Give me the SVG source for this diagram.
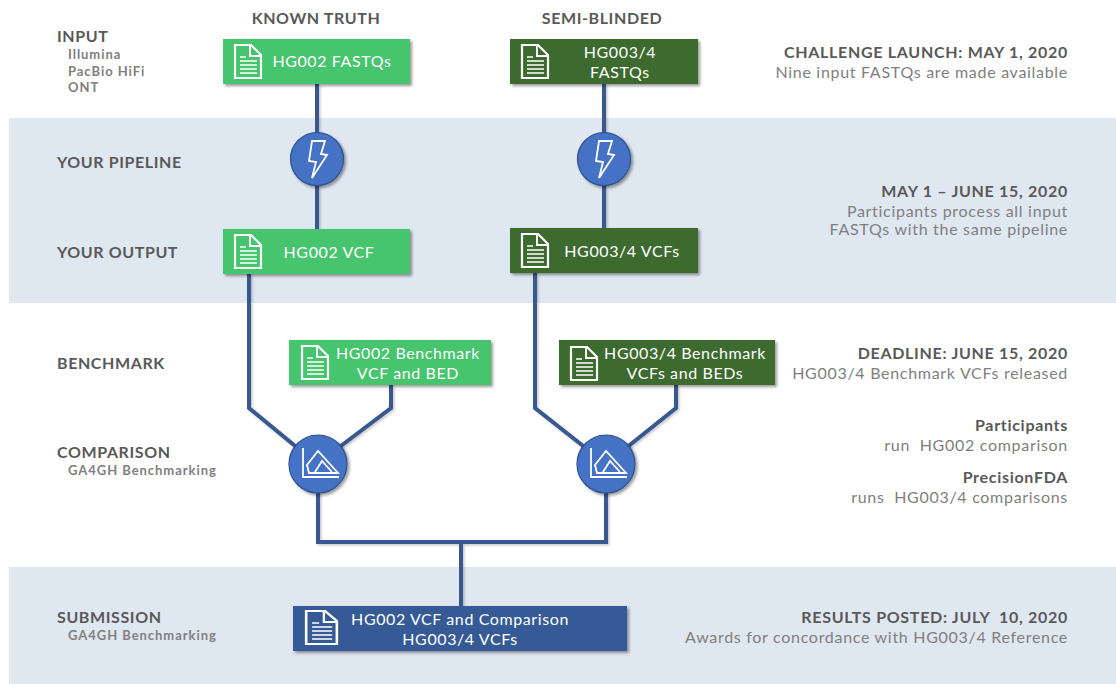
<svg xmlns="http://www.w3.org/2000/svg" width="1116" height="684" viewBox="0 0 1116 684">
<style>
text{font-family:Lato,"Open Sans","Liberation Sans",sans-serif}
.h{font-size:16px;font-weight:700;fill:#595959;letter-spacing:.6px}
.s{font-size:13px;font-weight:700;fill:#808080;letter-spacing:.95px}
.rh{font-size:16px;font-weight:700;fill:#595959;text-anchor:end;letter-spacing:.7px}
.rs{font-size:16px;fill:#808080;text-anchor:end;letter-spacing:.7px}
.n{font-size:16px;fill:#fff;text-anchor:middle;letter-spacing:.6px}
.line{fill:none;stroke:#38598f;stroke-width:4;stroke-linejoin:miter}
.g{fill:#46c46e}.d{fill:#3e6b2f}.b{fill:#365a96}
.c{fill:#4472c4;stroke:#2f528f;stroke-width:1.2}
.ico{fill:none;stroke:#fff;stroke-width:1.8}
</style>
<defs>
<filter id="sh" x="-10%" y="-20%" width="120%" height="140%"><feDropShadow dx="2" dy="2" stdDeviation="1.5" flood-color="#000" flood-opacity=".4"/></filter>
<filter id="lsh" x="-5%" y="-5%" width="110%" height="110%"><feDropShadow dx="1.5" dy="1.5" stdDeviation="1" flood-color="#000" flood-opacity=".22"/></filter>
<g id="doc"><path d="M1 1H17L27 11V34H1Z" fill="none" stroke="#fff" stroke-width="2.2"/><path d="M16 1V12H27" fill="none" stroke="#fff" stroke-width="2"/><path d="M6 13H12M6 17H23M6 21H23M6 25H23M6 29H23" stroke="#fff" stroke-width="1.5" fill="none"/></g>
<g id="bolt"><path d="M-5 -18H8L4 -5L10 -4L-5 19L-1 3L-8 2Z" class="ico"/></g>
<g id="chart"><path d="M-15 -16V13H21" class="ico"/><path d="M0 -13L-11 1L-9 9H20Z" class="ico"/><path d="M-3 8L4 -3L14 8" class="ico"/></g>
</defs>
<rect x="9" y="118" width="1107" height="185" fill="#dfe7f1"/>
<rect x="9" y="567" width="1107" height="117" fill="#dfe7f1"/>
<g id="connectors" filter="url(#lsh)">
<path class="line" d="M317 84V229"/>
<path class="line" d="M604 84V228"/>
<path class="line" d="M249 274V408L317 464"/>
<path class="line" d="M391 385V408L317 464"/>
<path class="line" d="M535 273V408L606 464"/>
<path class="line" d="M676 385V408L606 464"/>
<path class="line" d="M318 464V542H606V464"/>
<path class="line" d="M461 542V606"/>
</g>
<g id="labels-left">
<text class="h" x="57" y="42">INPUT</text>
<text class="s" x="68" y="59">Illumina</text>
<text class="s" x="68" y="76">PacBio HiFi</text>
<text class="s" x="68" y="92">ONT</text>
<text class="h" x="57" y="168">YOUR PIPELINE</text>
<text class="h" x="57" y="258">YOUR OUTPUT</text>
<text class="h" x="57" y="369">BENCHMARK</text>
<text class="h" x="57" y="458">COMPARISON</text>
<text class="s" x="68" y="475">GA4GH Benchmarking</text>
<text class="h" x="57" y="623">SUBMISSION</text>
<text class="s" x="68" y="640">GA4GH Benchmarking</text>
<text class="h" x="316" y="24" text-anchor="middle">KNOWN TRUTH</text>
<text class="h" x="602" y="24" text-anchor="middle">SEMI-BLINDED</text>
</g>
<g id="n-hg002-fastq"><rect class="g" x="223" y="39" width="187" height="45" filter="url(#sh)"/><use href="#doc" x="234" y="44"/><text class="n" x="332" y="67">HG002 FASTQs</text></g>
<g id="n-hg003-fastq"><rect class="d" x="510" y="39" width="188" height="45" filter="url(#sh)"/><use href="#doc" x="521" y="44"/><text class="n" x="620" y="58">HG003/4</text><text class="n" x="620" y="78">FASTQs</text></g>
<g id="n-pipe1"><circle class="c" cx="317" cy="159" r="26.5" filter="url(#sh)"/><use href="#bolt" x="317" y="159"/></g>
<g id="n-pipe2"><circle class="c" cx="604" cy="159" r="26.5" filter="url(#sh)"/><use href="#bolt" x="604" y="159"/></g>
<g id="n-hg002-vcf"><rect class="g" x="223" y="229" width="187" height="45" filter="url(#sh)"/><use href="#doc" x="234" y="234"/><text class="n" x="329" y="258">HG002 VCF</text></g>
<g id="n-hg003-vcf"><rect class="d" x="510" y="228" width="188" height="45" filter="url(#sh)"/><use href="#doc" x="521" y="233"/><text class="n" x="622" y="257">HG003/4 VCFs</text></g>
<g id="n-hg002-bench"><rect class="g" x="289" y="340" width="202" height="45" filter="url(#sh)"/><use href="#doc" x="301" y="345"/><text class="n" x="408" y="359">HG002 Benchmark</text><text class="n" x="408" y="379">VCF and BED</text></g>
<g id="n-hg003-bench"><rect class="d" x="559" y="340" width="216" height="45" filter="url(#sh)"/><use href="#doc" x="570" y="346"/><text class="n" x="685" y="359">HG003/4 Benchmark</text><text class="n" x="685" y="379">VCFs and BEDs</text></g>
<g id="n-cmp1"><circle class="c" cx="318" cy="464" r="29" filter="url(#sh)"/><use href="#chart" x="318" y="464"/></g>
<g id="n-cmp2"><circle class="c" cx="606" cy="464" r="29" filter="url(#sh)"/><use href="#chart" x="606" y="464"/></g>
<g id="n-submission"><rect class="b" x="293" y="606" width="334" height="45" filter="url(#sh)"/><use href="#doc" transform="translate(305 610) scale(1.18 1)"/><text class="n" x="460" y="625">HG002 VCF and Comparison</text><text class="n" x="460" y="645">HG003/4 VCFs</text></g>
<g id="labels-right">
<text class="rh" x="1068" y="58">CHALLENGE LAUNCH: MAY 1, 2020</text>
<text class="rs" x="1068" y="78">Nine input FASTQs are made available</text>
<text class="rh" x="1068" y="197">MAY 1 – JUNE 15, 2020</text>
<text class="rs" x="1068" y="217">Participants process all input</text>
<text class="rs" x="1068" y="235">FASTQs with the same pipeline</text>
<text class="rh" x="1068" y="359">DEADLINE: JUNE 15, 2020</text>
<text class="rs" x="1068" y="379">HG003/4 Benchmark VCFs released</text>
<text class="rh" x="1068" y="431">Participants</text>
<text class="rs" x="1068" y="451" xml:space="preserve">run  HG002 comparison</text>
<text class="rh" x="1068" y="483">PrecisionFDA</text>
<text class="rs" x="1068" y="503" xml:space="preserve">runs  HG003/4 comparisons</text>
<text class="rh" x="1068" y="623" xml:space="preserve">RESULTS POSTED: JULY  10, 2020</text>
<text class="rs" x="1068" y="643">Awards for concordance with HG003/4 Reference</text>
</g>
</svg>
